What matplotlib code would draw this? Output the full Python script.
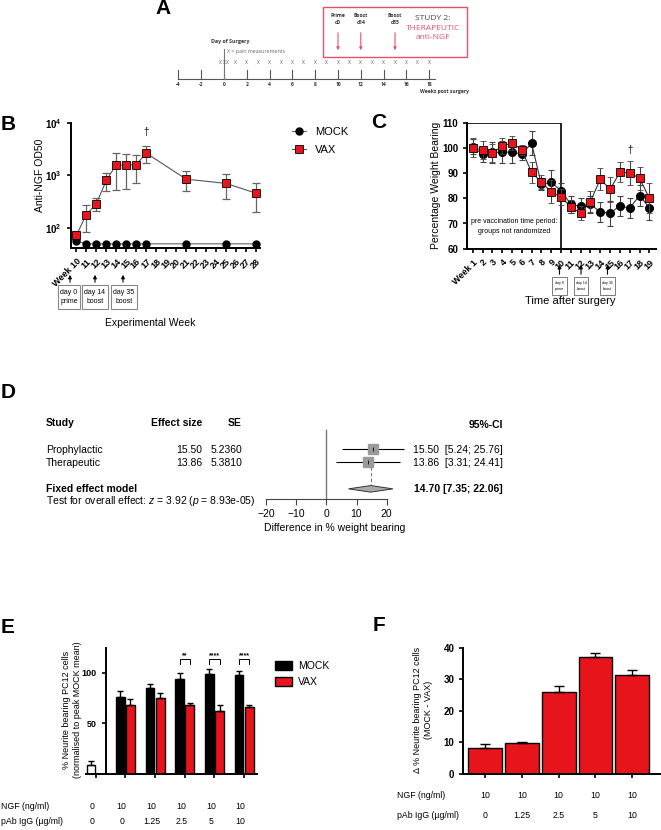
import numpy as np
import matplotlib
matplotlib.use("Agg")
import matplotlib.pyplot as plt
from matplotlib.patches import Rectangle, Polygon
from matplotlib.ticker import NullLocator, FixedLocator, FixedFormatter
from matplotlib.transforms import blended_transform_factory

plt.rcParams['font.family'] = ['Liberation Sans', 'DejaVu Sans']
plt.rcParams['mathtext.fontset'] = 'custom'
plt.rcParams['mathtext.rm'] = 'Liberation Sans'
plt.rcParams['mathtext.it'] = 'Liberation Sans:italic'
plt.rcParams['mathtext.bf'] = 'Liberation Sans:bold'

W, H = 661, 830
RED = '#e8141c'

# ---------------- data ----------------
# A: study timeline (weeks post surgery)
tl_weeks = [-4, -2, 0, 2, 4, 6, 8, 10, 12, 14, 16, 18]
pain_weeks = [-0.3, 0, 0.3, 1, 2, 3, 4, 5, 6, 7, 8, 9, 10, 11, 12, 13, 14, 15, 16, 17, 18]
vacc_weeks = [10, 12, 15]
vacc_labels = ["Prime\nd0", "Boost\nd14", "Boost\nd35"]

# B: anti-NGF titre
b_weeks = [10, 11, 12, 13, 14, 15, 16, 17, 21, 25, 28]
b_vax = [71, 177, 284, 796, 1590, 1570, 1600, 2660, 845, 700, 455]
b_vax_err = [12, 93, 77, 305, 1075, 1020, 880, 930, 340, 340, 257]
b_mock = [55, 49, 49, 49, 49, 49, 49, 49, 49, 49, 49]
b_ticks = [10, 11, 12, 13, 14, 15, 16, 17, 18, 19, 20, 21, 22, 23, 24, 25, 26, 27, 28]
b_ticklabels = ["Week 10", "11", "12", "13", "14", "15", "16", "17", "18", "19",
                "20", "21", "22", "23", "24", "25", "26", "27", "28"]
b_boxes = ["day 0\nprime", "day 14\nboost", "day 35\nboost"]

# C: weight bearing
c_weeks = [1, 2, 3, 4, 5, 6, 7, 8, 9, 10, 11, 12, 13, 14, 15, 16, 17, 18, 19]
c_ticklabels = ["Week 1", "2", "3", "4", "5", "6", "7", "8", "9", "10",
                "11", "12", "13", "14", "15", "16", "17", "18", "19"]
c_mock = [100.5, 97.5, 98.2, 98.3, 98.3, 97.6, 101.8, 85.5, 86.4, 83.0,
          77.6, 76.8, 77.6, 74.6, 74.1, 77.0, 76.1, 81.1, 76.3]
c_mock_err = [3.0, 3.0, 4.0, 4.3, 4.3, 2.5, 4.8, 2.4, 4.7, 2.9,
              3.5, 3.5, 3.3, 3.9, 5.0, 4.0, 3.9, 4.3, 4.9]
c_vax = [100.1, 99.2, 98.0, 100.7, 102.0, 99.3, 90.3, 86.4, 82.6, 80.5,
         76.6, 74.1, 78.7, 87.6, 83.6, 90.3, 90.0, 88.0, 80.1]
c_vax_err = [3.7, 3.7, 3.6, 3.3, 2.9, 2.0, 4.1, 2.9, 4.5, 3.3,
             2.6, 2.9, 4.0, 4.5, 4.9, 4.0, 4.8, 4.6, 6.0]
c_boxes = ["day 0\nprime", "day 14\nboost", "day 35\nboost"]

# D: meta-analysis
d_studies = ["Prophylactic", "Therapeutic"]
d_effect = [15.50, 13.86]
d_se = [5.2360, 5.3810]
d_lo = [5.24, 3.31]
d_hi = [25.76, 24.41]
d_fixed = 14.70
d_fixed_lo = 7.35
d_fixed_hi = 22.06

# E: neurite outgrowth
e_ctrl = 8.9
e_ctrl_err = 3.9
e_mock = [76.3, 85.5, 93.8, 99.3, 98.0]
e_mock_err = [5.6, 4.0, 6.3, 4.3, 4.0]
e_vax = [68.1, 75.7, 68.1, 62.5, 66.8]
e_vax_err = [6.6, 4.0, 2.6, 5.6, 1.3]
e_sig = ["", "", "**", "****", "****"]
e_ngf = ["0", "10", "10", "10", "10", "10"]
e_pab = ["0", "0", "1.25", "2.5", "5", "10"]

# F: difference MOCK - VAX
f_delta = [8.2, 9.8, 26.0, 37.2, 31.3]
f_err = [1.3, 0.2, 1.9, 1.2, 1.6]
f_ngf = ["10", "10", "10", "10", "10"]
f_pab = ["0", "1.25", "2.5", "5", "10"]


def rect(l, t, r, b):
    return [l / W, 1 - b / H, (r - l) / W, (b - t) / H]


def style_ax(ax):
    for s in ['top', 'right']:
        ax.spines[s].set_visible(False)
    for s in ['left', 'bottom']:
        ax.spines[s].set_linewidth(1.4)
    ax.tick_params(direction='out', length=3, width=1.2, labelsize=7)
    for lab in ax.get_yticklabels():
        lab.set_fontweight('bold')


fig = plt.figure(figsize=(W / 100, H / 100), dpi=100)
ov = fig.add_axes([0, 0, 1, 1], zorder=5)
ov.set_xlim(0, W)
ov.set_ylim(H, 0)
ov.axis('off')

# panel letters
for letter, x, y in [("A", 163, 9), ("B", 8, 124), ("C", 379, 122),
                     ("D", 8, 392), ("E", 8, 627), ("F", 379, 625)]:
    ov.text(x, y, letter, fontsize=15, fontweight='bold', ha='center', va='center')

# ---------------- A ----------------
axA = fig.add_axes(rect(170, 0, 480, 100))
axA.set_xlim((170 - 224) / 11.4, (480 - 224) / 11.4)
axA.set_ylim(100, 0)
axA.axis('off')
fa = ['Open Sans', 'DejaVu Sans']
axA.plot([-4, 18.5], [79, 79], color='#555555', lw=0.8)
for w in tl_weeks:
    axA.plot([w, w], [70, 79], color='#555555', lw=0.8)
    axA.text(w, 84, str(w), ha='center', va='center', fontsize=3.6,
             fontweight='bold', color='#333333', family=fa)
axA.plot([0, 0], [49, 79], color='#777777', lw=0.8)
for w in pain_weeks:
    axA.text(w, 62, "X", ha='center', va='center', fontsize=3.6, color='#555555', family=fa)
axA.add_patch(Rectangle(((323 - 224) / 11.4, 7.3), 144 / 11.4, 50,
                        fill=False, edgecolor='#e8506a', lw=1.0))
for w, lab in zip(vacc_weeks, vacc_labels):
    axA.text(w, 19, lab, ha='center', va='center', fontsize=3.6, fontweight='bold',
             color='#333333', family=fa, linespacing=1.5)
    axA.annotate('', xy=(w, 53), xytext=(w, 30),
                 arrowprops=dict(arrowstyle='-|>', color='#e8506a', lw=0.8, mutation_scale=4))
ov.text(433, 18.3, "STUDY 2:", ha='center', va='center', fontsize=6, color='#444444', family=fa)
ov.text(433, 28.3, "THERAPEUTIC", ha='center', va='center', fontsize=6, color='#e8506a', family=fa)
ov.text(433, 37.3, "anti-NGF", ha='center', va='center', fontsize=6, color='#e8506a', family=fa)
ov.text(211, 41.7, "Day of Surgery", ha='left', va='center', fontsize=3.8,
        fontweight='bold', color='#333333', family=fa)
ov.text(227, 51.7, "X = pain measurements", ha='left', va='center', fontsize=3.8,
        color='#666666', family=fa)
ov.text(420, 92, "Weeks post surgery", ha='left', va='center', fontsize=3.6,
        fontweight='bold', color='#333333', family=fa)

# ---------------- B ----------------
axB = fig.add_axes(rect(71, 123, 260, 248))
axB.set_yscale('log')
axB.errorbar(b_weeks, b_vax, yerr=b_vax_err, fmt='none', ecolor='#666666',
             elinewidth=0.9, capsize=3, capthick=0.9, zorder=2)
axB.plot(b_weeks, b_mock, 'o-', color='#666666', mfc='black', mec='black', ms=5,
         lw=0.8, label='MOCK', zorder=3)
axB.plot(b_weeks, b_vax, 's-', color='#555555', mfc=RED, mec='black', mew=0.6, ms=6,
         lw=0.8, label='VAX', zorder=4)
axB.set_ylim(40.8, 1e4)
axB.set_xlim(9.47, 28.4)
style_ax(axB)
axB.yaxis.set_major_locator(FixedLocator([1e2, 1e3, 1e4]))
axB.yaxis.set_major_formatter(FixedFormatter([r'$\mathbf{10^{2}}$', r'$\mathbf{10^{3}}$',
                                              r'$\mathbf{10^{4}}$']))
axB.yaxis.set_minor_locator(NullLocator())
axB.set_xticks(b_ticks)
axB.set_xticklabels(b_ticklabels, rotation=45, ha='right', rotation_mode='anchor',
                    fontsize=6.5, fontweight='bold')
axB.annotate('\u2020', xy=(17, b_vax[7] + b_vax_err[7]), xytext=(0, 10),
             textcoords='offset points', ha='center', va='center', fontsize=7)
fig.legend(loc='upper left', bbox_to_anchor=(282 / W, 1 - 117 / H), frameon=False,
           fontsize=8, handlelength=1.3, labelspacing=0.7)
ov.text(40, 175, "Anti-NGF OD50", rotation=90, ha='center', va='center', fontsize=7.5)
ov.text(150, 323, "Experimental Week", ha='center', va='center', fontsize=7.5)
for (l, r), xa, lab in zip([(58, 80), (82, 108), (111, 137)], [70, 95, 123], b_boxes):
    ov.add_patch(Rectangle((l, 285), r - l, 24, fill=False, edgecolor='#888888', lw=0.8))
    ov.text((l + r) / 2, 297, lab, ha='center', va='center', fontsize=5, linespacing=1.4)
    ov.annotate('', xy=(xa, 272), xytext=(xa, 285),
                arrowprops=dict(arrowstyle='-|>', color='black', lw=0.8, mutation_scale=5))

# ---------------- C ----------------
axC = fig.add_axes(rect(467.3, 122.7, 656, 248.7))
axC.set_xlim(0.45, 19.68)
axC.set_ylim(60, 110)
axC.add_patch(Rectangle((0.45, 60), 10 - 0.45, 50, fill=False, edgecolor='black', lw=1.2))
axC.errorbar(c_weeks, c_mock, yerr=c_mock_err, fmt='o-', color='#333333', mfc='black',
             mec='black', ms=5.5, lw=0.8, ecolor='#444444', elinewidth=0.8, capsize=2.5,
             capthick=0.8, zorder=3)
axC.errorbar(c_weeks, c_vax, yerr=c_vax_err, fmt='s-', color='#333333', mfc=RED,
             mec='black', mew=0.6, ms=5.5, lw=0.8, ecolor='#444444', elinewidth=0.8,
             capsize=2.5, capthick=0.8, zorder=4)
style_ax(axC)
axC.set_yticks([60, 70, 80, 90, 100, 110])
axC.set_yticklabels(["60", "70", "80", "90", "100", "110"], fontweight='bold', fontsize=7)
axC.set_xticks(c_weeks)
axC.set_xticklabels(c_ticklabels, rotation=45, ha='right', rotation_mode='anchor',
                    fontsize=6.5, fontweight='bold')
axC.annotate('\u2020', xy=(17, c_vax[16] + c_vax_err[16]), xytext=(0, 8),
             textcoords='offset points', ha='center', va='center', fontsize=7)
axC.text(5.2, 68.8, "pre vaccination time period:\ngroups not randomized", ha='center',
         va='center', fontsize=5, linespacing=1.6)
ov.text(436, 185, "Percentage Weight Bearing", rotation=90, ha='center', va='center',
        fontsize=7.5)
ov.text(570, 301, "Time after surgery", ha='center', va='center', fontsize=8)
for (l, r), lab in zip([(552, 567), (574, 588), (600, 615)], c_boxes):
    ov.add_patch(Rectangle((l, 277), r - l, 18, fill=False, edgecolor='#666666', lw=0.6))
    ov.text((l + r) / 2, 286, lab, ha='center', va='center', fontsize=2.6, linespacing=1.5)
    ov.annotate('', xy=((l + r) / 2, 262), xytext=((l + r) / 2, 277),
                arrowprops=dict(arrowstyle='-|>', color='black', lw=0.8, mutation_scale=5))

# ---------------- D ----------------
fs = 7.5
ov.text(46, 423, "Study", fontsize=fs, fontweight='bold', va='center')
ov.text(202, 423, "Effect size", fontsize=fs, fontweight='bold', va='center', ha='right')
ov.text(242, 423, "SE", fontsize=fs, fontweight='bold', va='center', ha='right')
ov.text(503, 425, "95%-CI", fontsize=fs, fontweight='bold', va='center', ha='right')
for i, name in enumerate(d_studies):
    yy = 450 + 13.2 * i
    ov.text(46, yy, name, fontsize=fs, va='center')
    ov.text(202, yy, f"{d_effect[i]:.2f}", fontsize=fs, va='center', ha='right')
    ov.text(242, yy, f"{d_se[i]:.4f}", fontsize=fs, va='center', ha='right')
    ov.text(503, yy, f"{d_effect[i]:.2f}  [{d_lo[i]:.2f}; {d_hi[i]:.2f}]", fontsize=fs,
            va='center', ha='right')
ov.text(46, 489, "Fixed effect model", fontsize=fs, fontweight='bold', va='center')
ov.text(46, 501, r"Test for overall effect: $z$ = 3.92 ($p$ = 8.93e-05)", fontsize=fs,
        va='center')
ov.text(503, 488.5, f"{d_fixed:.2f} [{d_fixed_lo:.2f}; {d_fixed_hi:.2f}]", fontsize=fs,
        fontweight='bold', va='center', ha='right')

axD = fig.add_axes(rect(250, 425, 420, 499))
axD.set_xlim((250 - 326.3) / 3.02, (420 - 326.3) / 3.02)
axD.set_ylim(3.77, -1.84)
axD.patch.set_visible(False)
for s in ['top', 'right', 'left']:
    axD.spines[s].set_visible(False)
axD.spines['bottom'].set_bounds(-20, 20)
axD.spines['bottom'].set_color('#444444')
axD.spines['bottom'].set_linewidth(0.8)
axD.set_yticks([])
axD.set_xticks([-20, -10, 0, 10, 20])
axD.tick_params(axis='x', length=4, width=0.8, color='#444444', labelsize=fs, pad=3)
axD.set_xlabel("Difference in % weight bearing", fontsize=fs, labelpad=3)
axD.plot([0, 0], [-1.46, 3.77], color='#777777', lw=1.0)
rows = [0, 1]
axD.hlines(rows, d_lo, d_hi, color='black', lw=0.8)
for i, ms in zip(rows, [7.8, 7.2]):
    axD.plot(d_effect[i], i, 's', color='#9a9a9a', ms=ms, zorder=3)
    axD.plot(d_effect[i], i, '|', color='black', ms=3, mew=0.6, zorder=4)
axD.plot([d_fixed, d_fixed], [1.32, 2.7], color='#777777', lw=0.8, ls=(0, (3, 2)))
axD.add_patch(Polygon([(d_fixed_lo, 3), (d_fixed, 2.75), (d_fixed_hi, 3), (d_fixed, 3.25)],
                      closed=True, facecolor='#aaaaaa', edgecolor='#333333', lw=0.7))

# ---------------- E ----------------
axE = fig.add_axes(rect(86, 647.7, 257.3, 774))
grp = np.arange(1, 6)
axE.bar(-0.16, e_ctrl, 0.28, color='white', edgecolor='black', lw=1,
        yerr=[[0], [e_ctrl_err]], capsize=2.5, error_kw=dict(lw=1, capthick=1))
axE.bar(grp - 0.17, e_mock, 0.29, color='black', edgecolor='black', lw=1, label='MOCK',
        yerr=[np.zeros(5), e_mock_err], capsize=2.5, error_kw=dict(lw=1, capthick=1))
axE.bar(grp + 0.17, e_vax, 0.3, color=RED, edgecolor='black', lw=1, label='VAX',
        yerr=[np.zeros(5), e_vax_err], capsize=2.5, error_kw=dict(lw=1, capthick=1))
axE.set_xlim(-0.32, 5.44)
axE.set_ylim(0, 125)
style_ax(axE)
axE.spines['left'].set_position(('data', 0.353))
axE.set_yticks([50, 100])
axE.set_yticklabels(["50", "100"], fontweight='bold', fontsize=6.5)
axE.set_xticks([0, 1, 2, 3, 4, 5])
axE.set_xticklabels([])
for g, s in zip(grp, e_sig):
    if s:
        x0, x1 = g - 0.17, g + 0.17
        axE.plot([x0, x0, x1, x1], [108.6, 114.3, 114.3, 108.6], color='black', lw=0.7)
        axE.text(g, 113.5, s, ha='center', va='bottom', fontsize=5, fontweight='bold')
axE.legend(loc='upper left', bbox_to_anchor=(266 / W, 1 - 652 / H),
           bbox_transform=fig.transFigure, frameon=False, fontsize=7.5,
           handlelength=1.6, handleheight=0.9, labelspacing=0.55, handletextpad=0.6)
tE = blended_transform_factory(axE.transData, ov.transData)
ov.text(1, 806.7, "NGF (ng/ml)", fontsize=6.3, va='center')
ov.text(1, 821.7, "pAb IgG (\u00b5g/ml)", fontsize=6.3, va='center')
for i, (a, b) in enumerate(zip(e_ngf, e_pab)):
    axE.text(i - 0.12, 806.7, a, transform=tE, ha='center', va='center', fontsize=6.3,
             clip_on=False)
    axE.text(i - 0.12, 821.7, b, transform=tE, ha='center', va='center', fontsize=6.3,
             clip_on=False)
ov.text(72, 710, "% Neurite bearing PC12 cells\n(normalised to peak MOCK mean)", rotation=90,
        ha='center', va='center', fontsize=6.5, linespacing=1.15)

# ---------------- F ----------------
axF = fig.add_axes(rect(463.3, 647.7, 660, 774))
fx = np.arange(5)
axF.bar(fx, f_delta, 0.92, color=RED, edgecolor='black', lw=1,
        yerr=[np.zeros(5), f_err], capsize=3.5, error_kw=dict(lw=1, capthick=1))
axF.set_xlim(-0.6, 4.76)
axF.set_ylim(0, 40)
style_ax(axF)
axF.set_yticks([0, 10, 20, 30, 40])
axF.set_yticklabels(["0", "10", "20", "30", "40"], fontweight='bold', fontsize=7)
axF.set_xticks(fx)
axF.set_xticklabels([])
tF = blended_transform_factory(axF.transData, ov.transData)
ov.text(397, 795, "NGF (ng/ml)", fontsize=6.3, va='center')
ov.text(397, 815, "pAb IgG (\u00b5g/ml)", fontsize=6.3, va='center')
for i, (a, b) in enumerate(zip(f_ngf, f_pab)):
    axF.text(i, 795, a, transform=tF, ha='center', va='center', fontsize=6.3, clip_on=False)
    axF.text(i, 815, b, transform=tF, ha='center', va='center', fontsize=6.3, clip_on=False)
ov.text(423, 710, "\u0394 % Neurite bearing PC12 cells\n(MOCK - VAX)", rotation=90,
        ha='center', va='center', fontsize=6.5, linespacing=1.15)

fig.savefig("out.png", dpi=100)
